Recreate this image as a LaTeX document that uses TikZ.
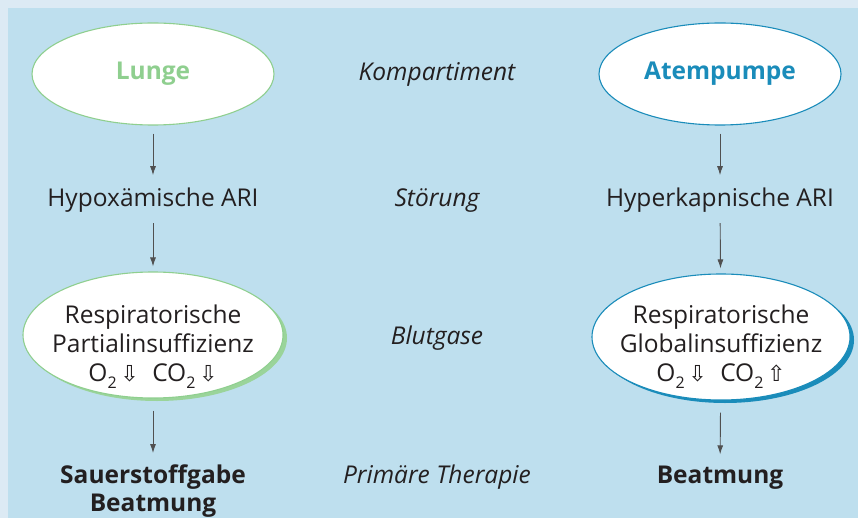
\documentclass[tikz,border=0pt]{standalone}
\usepackage{fontspec}
\setmainfont{Open Sans}
\newfontfamily\pfeilfont{DejaVu Sans}
\usetikzlibrary{shapes.geometric,arrows.meta}

\definecolor{rahmen}{HTML}{DCEAF4}
\definecolor{feldblau}{HTML}{BEDFEE}
\definecolor{lungengruen}{HTML}{8FCF8F}
\definecolor{pumpenblau}{HTML}{1A8CBA}
\definecolor{schrift}{HTML}{231F20}
\definecolor{pfeilgrau}{HTML}{505050}

\newcommand{\tief}[1]{\raisebox{-0.6ex}{\fontsize{16}{16}\selectfont #1}}
\newcommand{\runter}{{\pfeilfont\fontsize{22}{22}\selectfont\,⇩}}
\newcommand{\hoch}{{\pfeilfont\fontsize{22}{22}\selectfont\,⇧}}

\begin{document}
\begin{tikzpicture}[x=1pt, y=-1pt, >={Latex[length=9pt,width=6pt]},
    font=\fontsize{24.5}{29}\selectfont, text=schrift]

    % --- Hintergrund ---
    \fill[rahmen] (0,0) rectangle (858,518);
    \fill[feldblau] (8,8) rectangle (858,518);
    \useasboundingbox (0,0) rectangle (858,518);

    % Stile
    \tikzset{
        oval/.style={ellipse, fill=white, line width=1.1pt, inner sep=0pt},
        kopf/.style={oval, minimum width=242pt, minimum height=102pt,
            font=\fontsize{24.5}{28}\selectfont\bfseries},
        gase/.style={oval, minimum width=260pt, minimum height=126pt},
        zeile/.style={anchor=base, inner sep=0pt, align=center},
        mitte/.style={zeile, font=\fontsize{24.5}{29}\selectfont\itshape},
        therapie/.style={zeile, font=\fontsize{24.5}{28}\selectfont\bfseries},
        fluss/.style={->, draw=pfeilgrau, line width=0.9pt}
    }

    % --- Kompartiment ---
    \node[kopf, draw=lungengruen, text=lungengruen] (lunge) at (153,74) {Lunge};
    \node[mitte] (kompartiment) at (437,81) {Kompartiment};
    \node[kopf, draw=pumpenblau, text=pumpenblau] (atempumpe) at (720,74) {Atempumpe};

    % --- Störung ---
    \node[zeile] (hypox) at (153,207) {Hypoxämische ARI};
    \node[mitte] (stoerung) at (437,207) {Störung};
    \node[zeile] (hyperk) at (720,207) {Hyperkapnische ARI};

    % --- Blutgase (mit Schatten) ---
    \fill[lungengruen!90] (157,338) ellipse [x radius=130pt, y radius=63pt];
    \node[gase, draw=lungengruen] (partial) at (153,335) {};
    \node[zeile] (partialtext) at (153,381)
        {Respiratorische\\Partialinsuffizienz\\O\tief{2}\runter\hspace{0.55em}CO\tief{2}\runter};
    \node[mitte] (blutgase) at (437,344) {Blutgase};
    \fill[pumpenblau] (725,340) ellipse [x radius=129pt, y radius=63pt];
    \node[gase, draw=pumpenblau, minimum width=258pt] (global) at (721,337) {};
    \node[zeile] (globaltext) at (721,381)
        {Respiratorische\\Globalinsuffizienz\\O\tief{2}\runter\hspace{0.55em}CO\tief{2}\hoch};

    % --- Primäre Therapie ---
    \node[therapie] (sauerstoff) at (153,511) {Sauerstoffgabe\\Beatmung};
    \node[mitte] (therapie) at (437,483) {Primäre Therapie};
    \node[therapie] (beatmung) at (720,483) {Beatmung};

    % --- Pfeile ---
    \draw[fluss, shorten <=8pt, shorten >=13pt] (lunge) -- (hypox);
    \draw[fluss, shorten <=10pt, shorten >=5pt] (hypox) -- (partial);
    \draw[fluss, shorten <=12pt, shorten >=11pt] (partial) -- (sauerstoff);
    \draw[fluss, shorten <=8pt, shorten >=13pt] (atempumpe) -- (hyperk);
    \draw[fluss, shorten <=10pt, shorten >=5pt] (hyperk) -- (global);
    \draw[fluss, shorten <=12pt, shorten >=11pt] (global) -- (beatmung);

\end{tikzpicture}
\end{document}
